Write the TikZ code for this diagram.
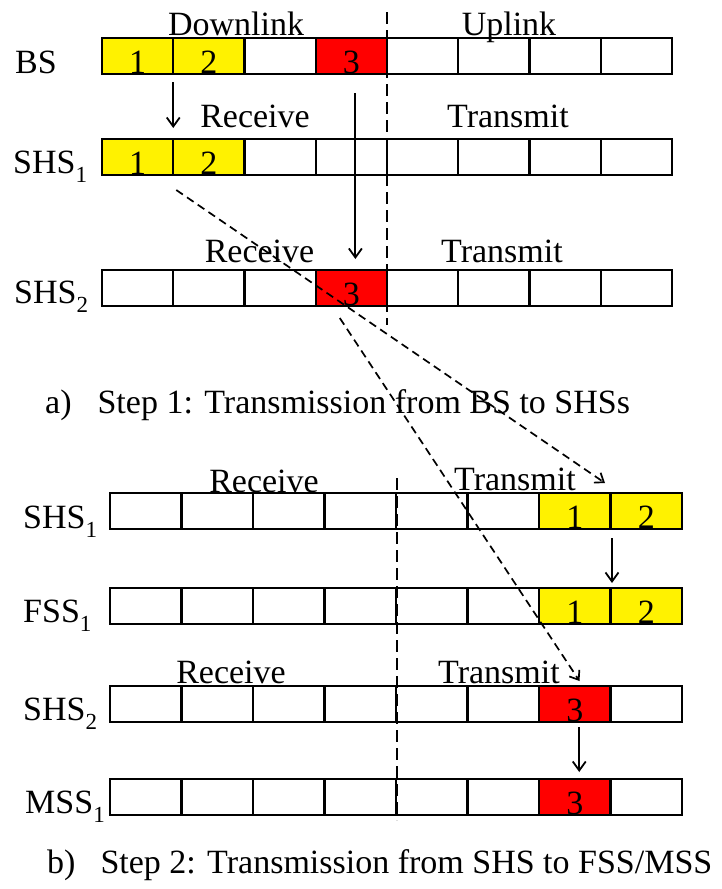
\documentclass[tikz,border=0pt]{standalone}
\usepackage{fontspec}
\setmainfont{Liberation Serif}
\usetikzlibrary{arrows.meta}
\newcommand{\lowsub}[1]{\raisebox{-9pt}{\fontsize{23}{23}\selectfont #1}}
\newcommand{\slotrow}[5]{%
  \foreach \fc/\dg [count=\k] in {#5}
    \node[slot,minimum width=#4,fill=\fc] (#1\k) at ({#2+(\k-0.5)*#4},#3) {\dg};
}
\begin{document}
\begin{tikzpicture}[x=1pt,y=-1pt,
  font=\fontsize{34}{40}\selectfont,
  slot/.style={draw,line width=2.2pt,inner sep=0pt,outer sep=0pt,
    minimum height=36pt,text height=35pt,text depth=0pt},
  lbl/.style={anchor=base,inner sep=0pt},
  rowlbl/.style={anchor=base west,inner sep=0pt},
  captxt/.style={anchor=base west,inner sep=0pt},
  cut/.style={line width=1.8pt,dash pattern=on 12pt off 6pt},
  move/.style={line width=1.8pt,-{Straight Barb[length=9pt,width=13pt,line width=1.8pt]}},
  hop/.style={line width=1.7pt,dash pattern=on 8pt off 5pt,
    -{Straight Barb[length=8pt,width=12pt,line width=1.7pt]}}]
\useasboundingbox (0,0) rectangle (721,889);

\slotrow{bs}{102}{56}{71.25}{yellow/1,yellow/2,white/{},red/3,white/{},white/{},white/{},white/{}}
\slotrow{ra}{102}{157}{71.25}{yellow/1,yellow/2,white/{},white/{},white/{},white/{},white/{},white/{}}
\slotrow{rb}{102}{288}{71.25}{white/{},white/{},white/{},red/3,white/{},white/{},white/{},white/{}}

\slotrow{ta}{110}{511}{71.5}{white/{},white/{},white/{},white/{},white/{},white/{},yellow/1,yellow/2}
\slotrow{fa}{110}{606}{71.5}{white/{},white/{},white/{},white/{},white/{},white/{},yellow/1,yellow/2}
\slotrow{tb}{110}{704}{71.5}{white/{},white/{},white/{},white/{},white/{},white/{},red/3,white/{}}
\slotrow{ma}{110}{797}{71.5}{white/{},white/{},white/{},white/{},white/{},white/{},red/3,white/{}}

\node[rowlbl] (nbs) at (15,73) {BS};
\node[rowlbl] (nra) at (13,173) {SHS\lowsub{1}};
\node[rowlbl] (nrb) at (14,303) {SHS\lowsub{2}};
\node[rowlbl] (nta) at (23,528) {SHS\lowsub{1}};
\node[rowlbl] (nfa) at (23,622) {FSS\lowsub{1}};
\node[rowlbl] (ntb) at (23,720) {SHS\lowsub{2}};
\node[rowlbl] (nma) at (25,813) {MSS\lowsub{1}};

\node[lbl] (down) at (236,35) {Downlink};
\node[lbl] (up) at (509,35) {Uplink};
\node[lbl] (rxa) at (255,127) {Receive};
\node[lbl] (txa) at (508,127) {Transmit};
\node[lbl] (rxb) at (259.5,262) {Receive};
\node[lbl] (txb) at (502,262) {Transmit};
\node[lbl] (rxc) at (264,492) {Receive};
\node[lbl] (txc) at (515,490) {Transmit};
\node[lbl] (rxd) at (231,683) {Receive};
\node[lbl] (txd) at (499,683) {Transmit};

\node[captxt] (capa) at (45,413) {a)\hspace{26pt}Step 1: Transmission from BS to SHSs};
\node[captxt] (capb) at (47,873) {b)\hspace{25pt}Step 2: Transmission from SHS to FSS/MSS};

\coordinate (cuta) at (387,12);
\coordinate (cutb) at (387,325);
\coordinate (cutc) at (397,478);
\coordinate (cutd) at (397,820);
\draw[cut] (cuta) -- (cutb);
\draw[cut] (cutc) -- (cutd);

\draw[move] ([yshift=-8pt]bs1.south east) -- ([yshift=11pt]ra1.north east);
\draw[move] ([shift={(4pt,-19pt)}]bs4.south) -- ([shift={(4pt,11pt)}]rb4.north);
\draw[move] ([shift={(1.5pt,-9pt)}]ta7.south east) -- ([shift={(1.5pt,5pt)}]fa7.north east);
\draw[move] ([shift={(4.5pt,-5pt)}]tb7.south) -- ([shift={(4.5pt,7pt)}]ma7.north);

\draw[hop] ([shift={(3pt,-15pt)}]ra1.south east) -- ([shift={(-5.5pt,10pt)}]ta7.north east);
\draw[hop] ([shift={(-11.6pt,-12pt)}]rb4.south) -- ([shift={(4.75pt,5pt)}]tb7.north);
\end{tikzpicture}
\end{document}
